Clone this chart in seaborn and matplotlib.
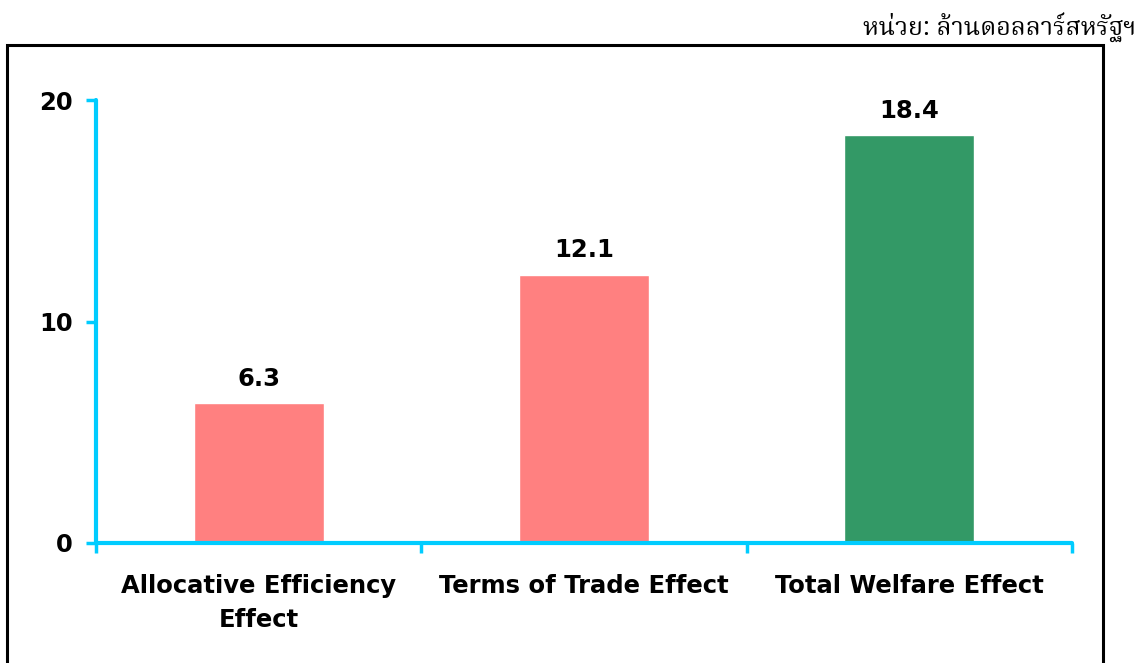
import matplotlib
matplotlib.use("Agg")
import seaborn as sns
from matplotlib import pyplot as plt
from matplotlib.patches import Rectangle

categories = ['Allocative Efficiency\nEffect', 'Terms of Trade Effect', 'Total Welfare Effect']
values = [6.3, 12.1, 18.4]
bar_colors = ['#FF8080', '#FF8080', '#339966']
yticks = [0, 10, 20]
unit_text = 'หน่วย: ล้านดอลลาร์สหรัฐฯ'

sns.set_style("white")
plt.rcParams['font.family'] = ['DejaVu Sans']
plt.rcParams['text.color'] = 'black'
plt.rcParams['xtick.color'] = 'black'
plt.rcParams['ytick.color'] = 'black'

axis_col = '#00CCFF'
fs = 17.5

fig = plt.figure(figsize=(11.44, 6.63), dpi=100)
ax = fig.add_axes([96/1144, 120/663, (1072-96)/1144, (543-100)/663])

sns.barplot(x=categories, y=values, hue=categories, palette=bar_colors,
            width=0.4, legend=False, saturation=1, ax=ax)

for c in ax.containers:
    ax.bar_label(c, fmt='%.1f', padding=9, fontsize=fs, fontweight='bold', color='black')

ax.set_xlim(-0.5, 2.5)
ax.set_ylim(0, 20)
ax.set_yticks(yticks)
ax.set_yticklabels([str(t) for t in yticks], fontsize=fs, fontweight='bold')
ax.set_xticks(range(len(categories)))
ax.set_xticklabels(categories, fontsize=fs, fontweight='bold', linespacing=1.55)
ax.set_xticks([-0.5, 0.5, 1.5, 2.5], minor=True)
ax.tick_params(axis='x', which='major', length=0, pad=22, labelcolor='black')
ax.tick_params(axis='x', which='minor', bottom=True, direction='out', length=7,
               width=2.5, color=axis_col)
ax.tick_params(axis='y', direction='out', length=7, width=2.5, color=axis_col, pad=10,
               left=True, labelcolor='black')
ax.set_xlabel('')
ax.set_ylabel('')

for s in ['top', 'right']:
    ax.spines[s].set_visible(False)
for s in ['left', 'bottom']:
    ax.spines[s].set_color(axis_col)
    ax.spines[s].set_linewidth(3)
    ax.spines[s].set_capstyle('round')

# outer frame
fig.patches.append(Rectangle((7/1144, -0.1), (1103-7)/1144, 0.1 + (663-45)/663,
                             transform=fig.transFigure, fill=False,
                             edgecolor='black', linewidth=2.2))

fig.text(1136/1144, (663-36)/663, unit_text, ha='right', va='baseline', fontsize=18,
         family=['Noto Serif Thai', 'Noto Sans Thai', 'Loma', 'Garuda', 'DejaVu Sans'])

fig.savefig('out.png', dpi=100)
